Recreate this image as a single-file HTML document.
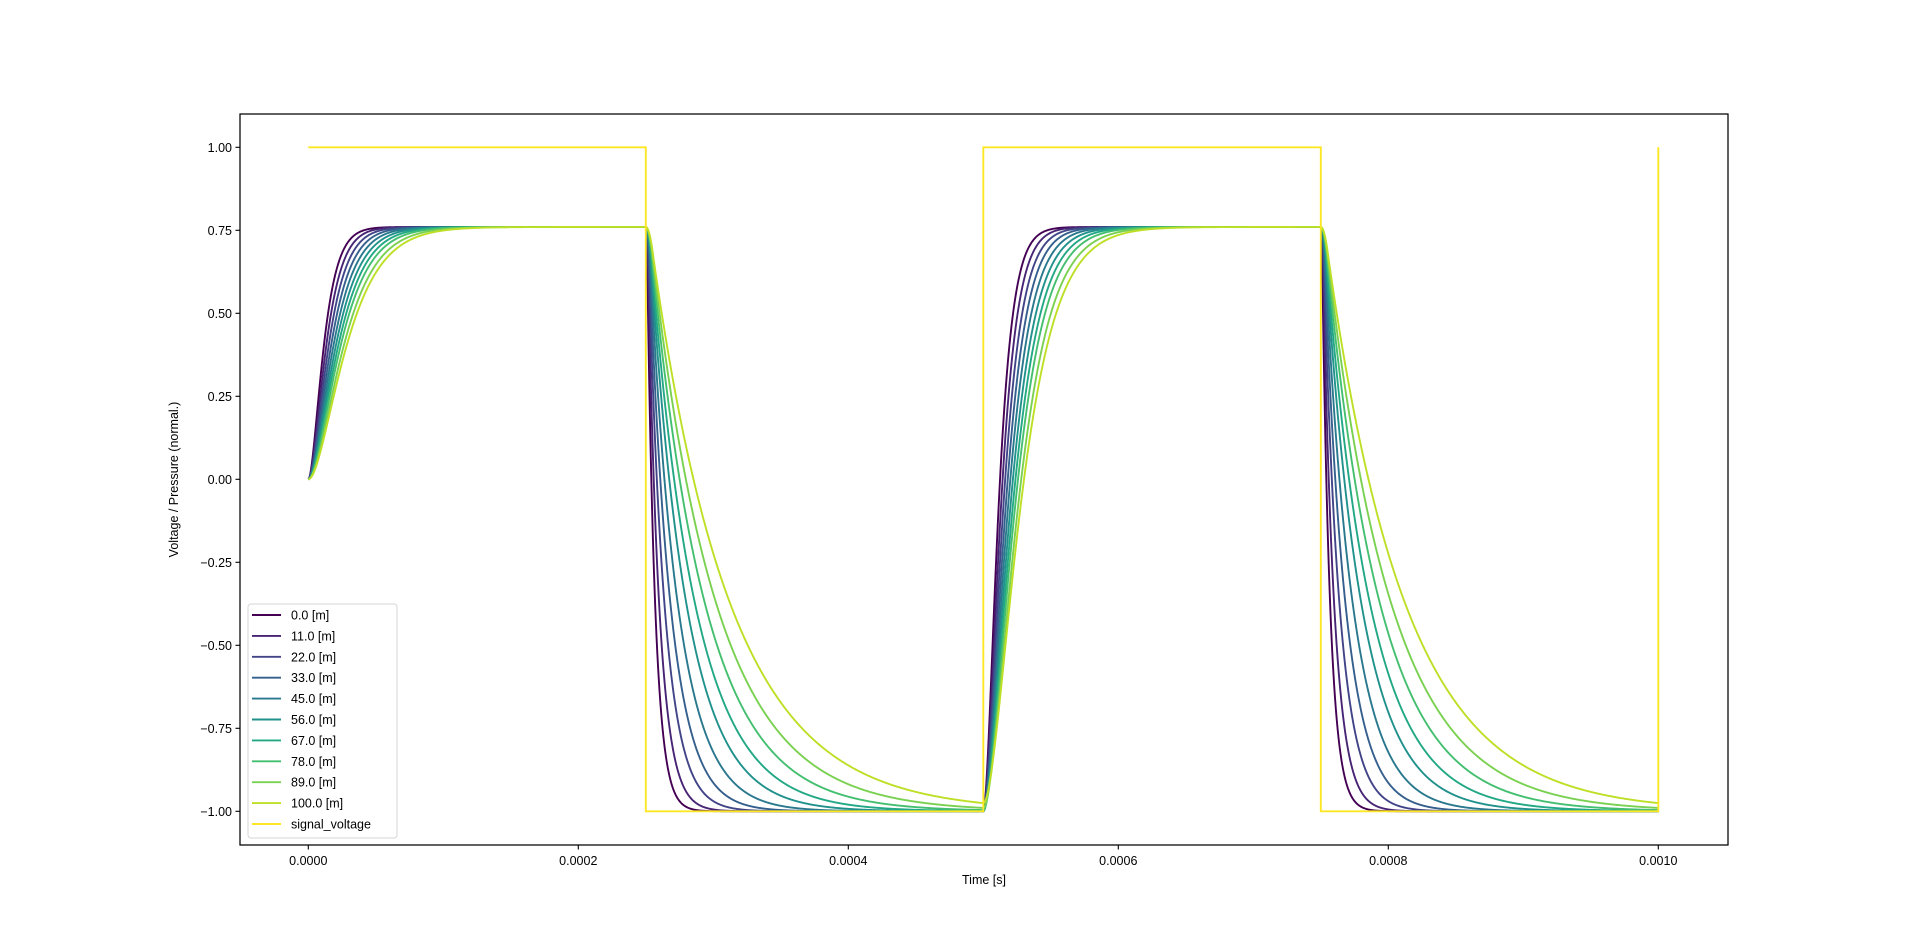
<!DOCTYPE html>
<html><head><meta charset="utf-8"><style>
html,body{margin:0;padding:0;background:#fff;}
svg{display:block;font-family:"Liberation Sans","DejaVu Sans",sans-serif;}
</style></head><body>
<svg id="chart" width="1920" height="949" viewBox="0 0 1920 949" xmlns="http://www.w3.org/2000/svg">
<rect x="0" y="0" width="1920" height="949" fill="#fff"/>
<g id="plot"></g>
<g id="axes"></g>
<g id="legend"></g>
</svg>
<script>
const seriesLabels = ["0.0 [m]","11.0 [m]","22.0 [m]","33.0 [m]","45.0 [m]","56.0 [m]","67.0 [m]","78.0 [m]","89.0 [m]","100.0 [m]"];
const seriesColors = ["#440154","#482475","#414487","#355f8d","#2a788e","#21918c","#22a884","#44bf70","#7ad151","#bddf26"];
const riseTau = [6.5e-6,7.5e-6,8.5e-6,9.5e-6,10.5e-6,11.5e-6,12.5e-6,13.5e-6,14.8e-6,16e-6];
const fallTau = [6e-6,8.5e-6,12e-6,16e-6,21e-6,27e-6,33e-6,40e-6,48e-6,58e-6];
const fallDelay = [1e-6,1.5e-6,2e-6,2.5e-6,3e-6,3.5e-6,4e-6,4.5e-6,5e-6,5.5e-6];
const highLevel = 0.76;
const lowLevel = -1.0;
const signalTimes = [0,0.00025,0.00025,0.0005,0.0005,0.00075,0.00075,0.001,0.001];
const signalValues = [1,1,-1,-1,1,1,-1,-1,1];
const switchTimes = [0,0.00025,0.0005,0.00075];
const xTicks = [0,0.0002,0.0004,0.0006,0.0008,0.001];
const xTickLabels = ["0.0000","0.0002","0.0004","0.0006","0.0008","0.0010"];
const yTicks = [1,0.75,0.5,0.25,0,-0.25,-0.5,-0.75,-1];
const yTickLabels = ["1.00","0.75","0.50","0.25","0.00","\u22120.25","\u22120.50","\u22120.75","\u22121.00"];

const NS="http://www.w3.org/2000/svg";
const L=240,R=1728,T=114,B=845;
const x=t=>308.3+t*1350000;
const y=v=>479.3-v*332;
function mk(tag,attrs,parent){const e=document.createElementNS(NS,tag);for(const k in attrs)e.setAttribute(k,attrs[k]);parent.appendChild(e);return e;}
const plot=document.getElementById('plot'),axes=document.getElementById('axes'),leg=document.getElementById('legend');

function segVal(seg,i,y0,s){
  if(seg%2===0){
    const u=s/riseTau[i];
    return highLevel+(y0-highLevel)*(1+u)*Math.exp(-u);
  } else {
    const d=fallDelay[i];
    if(s<d){return y0+(lowLevel-y0)*0.05*(s/d)*(s/d);}
    const ys=y0+(lowLevel-y0)*0.05;
    const u=(s-d)/fallTau[i];
    return lowLevel+(ys-lowLevel)*Math.exp(-u);
  }
}
seriesLabels.forEach((lab,i)=>{
  let pts=[];let yStart=0;let segStart=0;
  for(let k=0;k<=2000;k++){
    const t=k*0.5e-6;
    let seg=0;for(let s=0;s<switchTimes.length;s++) if(t>=switchTimes[s]) seg=s;
    if(seg!==segStart){
      yStart=segVal(segStart,i,yStart,switchTimes[seg]-switchTimes[segStart]);
      segStart=seg;
    }
    const v=segVal(seg,i,yStart,t-switchTimes[seg]);
    pts.push(x(t).toFixed(2)+","+y(v).toFixed(2));
  }
  const p=mk('polyline',{points:pts.join(' '),fill:'none',stroke:seriesColors[i],'stroke-width':1.9,'stroke-linejoin':'round'},plot);
  
  
});
const sp=mk('polyline',{points:signalTimes.map((t,k)=>x(t)+","+y(signalValues[k])).join(' '),fill:'none',stroke:'#fde725','stroke-width':1.9},plot);



const fr=mk('rect',{x:L,y:T,width:R-L,height:B-T,fill:'none',stroke:'#000','stroke-width':1.25},axes);


xTicks.forEach((t,k)=>{
  const tk=mk('line',{x1:x(t),x2:x(t),y1:B,y2:B+4.5,stroke:'#000','stroke-width':1.1},axes);
  
  
  const tx=mk('text',{x:x(t),y:B+20,'font-size':12.5,'text-anchor':'middle',fill:'#000'},axes);
  tx.textContent=xTickLabels[k];
  
  
});
yTicks.forEach((v,k)=>{
  const tk=mk('line',{x1:L-4.5,x2:L,y1:y(v),y2:y(v),stroke:'#000','stroke-width':1.1},axes);
  
  
  const tx=mk('text',{x:L-8,y:y(v)+4.5,'font-size':12.5,'text-anchor':'end',fill:'#000'},axes);
  tx.textContent=yTickLabels[k];
  
  
});
const xl=mk('text',{x:984,y:884,'font-size':12.5,'text-anchor':'middle'},axes);
xl.textContent="Time [s]";


const yl=mk('text',{x:0,y:0,'font-size':12.5,'text-anchor':'middle',transform:'translate(178,479.5) rotate(-90)'},axes);
yl.textContent="Voltage / Pressure (normal.)";



const lb=mk('rect',{x:248,y:604,width:149,height:234,rx:3,fill:'#fff','fill-opacity':0.8,stroke:'#d6d6d6','stroke-width':1},leg);


const allLabels=seriesLabels.concat(["signal_voltage"]);
const allColors=seriesColors.concat(["#fde725"]);
allLabels.forEach((lab,i)=>{
  const yy=615+i*20.9;
  const g=mk('g',{},leg);
  
  
  mk('line',{x1:252,x2:281,y1:yy,y2:yy,stroke:allColors[i],'stroke-width':1.9},g);
  const t=mk('text',{x:291,y:yy+4.5,'font-size':12.5},g);
  t.textContent=lab;
});
</script>
</body></html>
